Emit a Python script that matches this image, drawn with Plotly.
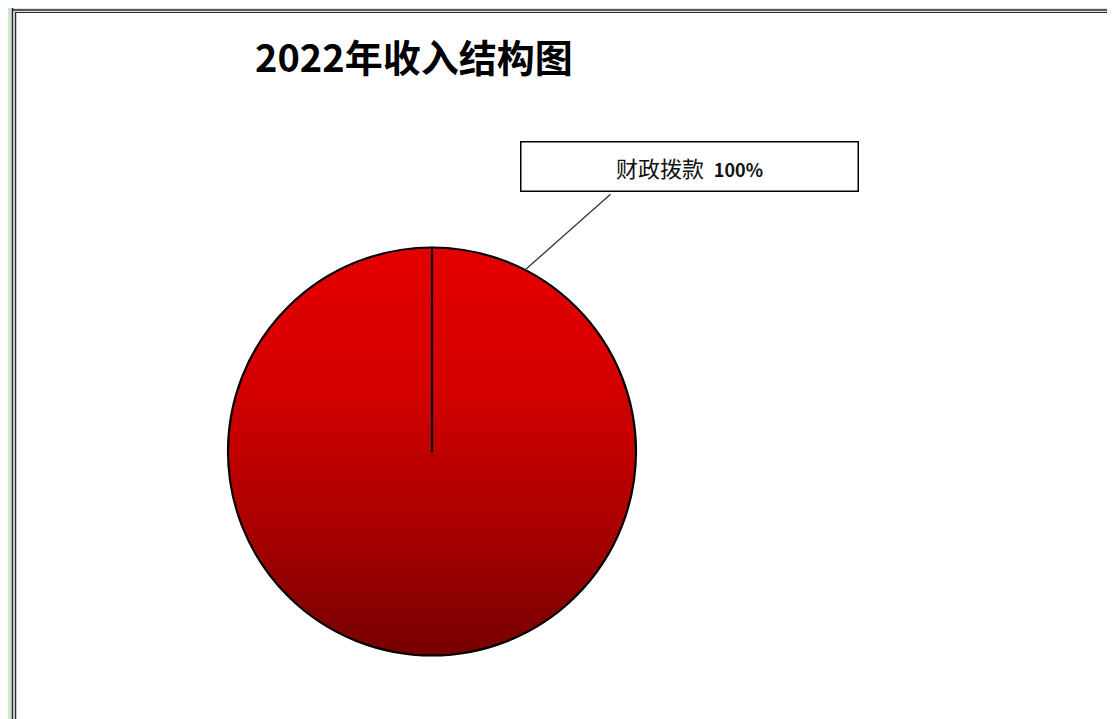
import numpy as np
import plotly.graph_objects as go

# ---- data ----
title_text = "2022年收入结构图"
categories = ["财政拨款", " "]
values = [100, 0]
gradient_stops = [[0.0, "#760000"], [0.3, "#A80000"], [0.65, "#D40000"], [1.0, "#E40000"]]

# page body has an 8px margin; figure fills the rest of the window
OFF = 8
W, H = 1115 - OFF, 719 - OFF

def px(x):
    return (x - OFF) / W

def py(y):
    return 1 - (y - OFF) / H

total = sum(values)
pct = round(values[0] / total * 100)

pie_dom_x = [px(228), px(636)]
pie_dom_y = [py(656), py(247)]

fig = go.Figure()

# gradient fill under the pie (same geometry as the pie's domain)
cx = (pie_dom_x[0] + pie_dom_x[1]) / 2 * W
cy = (pie_dom_y[0] + pie_dom_y[1]) / 2 * H
r = min((pie_dom_x[1] - pie_dom_x[0]) * W, (pie_dom_y[1] - pie_dom_y[0]) * H) / 2
t = np.linspace(0, 2 * np.pi, 361)
fig.add_trace(go.Scatter(
    x=cx + r * np.sin(t), y=cy + r * np.cos(t),
    mode="lines", line=dict(width=0),
    fill="toself",
    fillgradient=dict(type="vertical", colorscale=gradient_stops),
    hoverinfo="skip", showlegend=False,
))

fig.add_trace(go.Pie(
    labels=categories,
    values=values,
    sort=False,
    direction="clockwise",
    rotation=0,
    textinfo="none",
    hoverinfo="label+percent",
    marker=dict(colors=["rgba(0,0,0,0)", "rgba(0,0,0,0)"],
                line=dict(color="#000000", width=2.2)),
    domain=dict(x=pie_dom_x, y=pie_dom_y),
    showlegend=False,
))

# label box
fig.add_annotation(
    xref="paper", yref="paper",
    x=px(690), y=py(166.5),
    xanchor="center", yanchor="middle",
    text=f"{categories[0]}  <b><span style='font-size:18px'>{pct}%</span></b>",
    showarrow=False,
    font=dict(family="Noto Sans CJK SC", size=22, color="#111111"),
    bgcolor="#FFFFFF",
    bordercolor="#000000", borderwidth=1.5, borderpad=0,
    width=336, height=48, align="center", valign="middle",
)
# leader line
fig.add_annotation(
    xref="paper", yref="paper",
    x=px(525), y=py(270),
    ax=87, ay=-77,
    text=" ", font=dict(size=1),
    showarrow=True, arrowhead=0, arrowwidth=1.3, arrowcolor="#333333",
    standoff=0, startstandoff=0,
)
# title
fig.add_annotation(
    xref="paper", yref="paper",
    x=px(253), y=py(55),
    xanchor="left", yanchor="middle",
    text=f"<b>{title_text}</b>",
    showarrow=False,
    font=dict(family="Noto Sans CJK SC", size=38, color="#000000"),
)

# screenshot frame
shapes = [
    dict(type="rect", xref="paper", yref="paper", x0=0, x1=px(12), y0=0, y1=1,
         fillcolor="#CFE6CF", line=dict(width=0), layer="below"),
    dict(type="rect", xref="paper", yref="paper", x0=px(12), x1=px(1110), y0=py(12), y1=1,
         fillcolor="#D8E8D8", line=dict(width=0), layer="below"),
    dict(type="rect", xref="paper", yref="paper", x0=px(1112), x1=1, y0=0, y1=1,
         fillcolor="#FFFF00", line=dict(width=0), layer="below"),
    dict(type="line", xref="paper", yref="paper", x0=px(12.5), x1=px(12.5), y0=0, y1=1,
         line=dict(color="#2A2A2A", width=1.5)),
    dict(type="line", xref="paper", yref="paper", x0=px(15.5), x1=px(15.5), y0=0, y1=py(12),
         line=dict(color="#2A2A2A", width=1.5)),
    dict(type="line", xref="paper", yref="paper", x0=px(12), x1=px(1110), y0=py(10), y1=py(10),
         line=dict(color="#2A2A2A", width=1.5)),
    dict(type="line", xref="paper", yref="paper", x0=px(15), x1=px(1110), y0=py(12.5), y1=py(12.5),
         line=dict(color="#2A2A2A", width=1.2)),
    dict(type="line", xref="paper", yref="paper", x0=px(1110), x1=px(1110), y0=0, y1=py(10),
         line=dict(color="#2A2A2A", width=1.5)),
]

fig.update_layout(
    width=W, height=H,
    margin=dict(l=0, r=0, t=0, b=0),
    paper_bgcolor="#FFFFFF",
    plot_bgcolor="rgba(0,0,0,0)",
    font=dict(family="Noto Sans CJK SC"),
    shapes=shapes,
    xaxis=dict(range=[0, W], visible=False, fixedrange=True),
    yaxis=dict(range=[0, H], visible=False, fixedrange=True),
)

fig.write_html("out.html")
